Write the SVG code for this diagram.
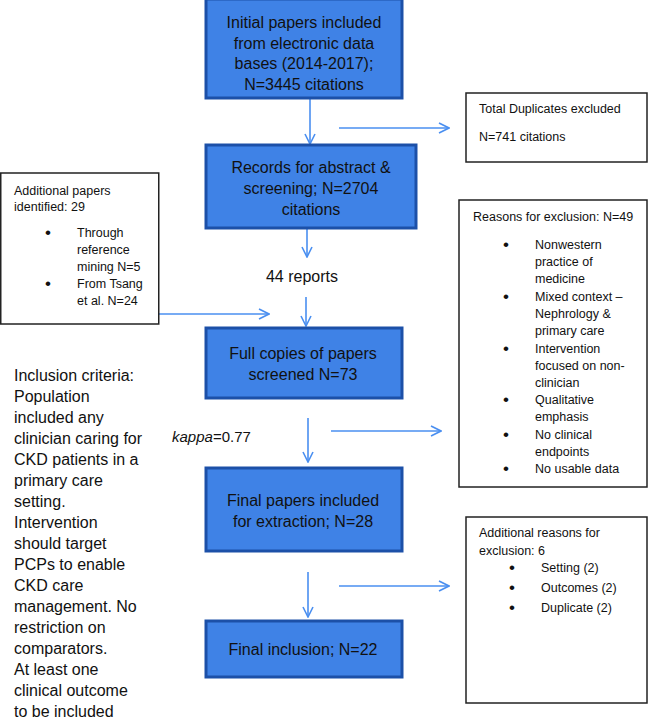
<svg xmlns="http://www.w3.org/2000/svg" width="649" height="722" viewBox="0 0 649 722">
<defs>
<style>
.blue{fill:#3f82e6;stroke:#1c50a8;stroke-width:3}
.white{fill:#ffffff;stroke:#222222;stroke-width:1.5}
.bt{font-family:"Liberation Sans",Arial,sans-serif;font-size:16px;fill:#111111;text-anchor:middle}
.st{font-family:"Liberation Sans",Arial,sans-serif;font-size:12.5px;fill:#111111}
.bu{font-family:"Liberation Sans",Arial,sans-serif;font-size:17px;fill:#111111}
.lt{font-family:"Liberation Sans",Arial,sans-serif;font-size:16px;fill:#111111}
.conn{stroke:#4a8ff0;stroke-width:1.6;fill:none;marker-end:url(#arr)}
</style>
<marker id="arr" viewBox="0 0 12 12" refX="11" refY="6" markerWidth="12" markerHeight="12" markerUnits="userSpaceOnUse" orient="auto">
<path d="M1,1 L11,6 L1,11" fill="none" stroke="#4a8ff0" stroke-width="1.6"/>
</marker>
</defs>
<rect width="649" height="722" fill="#ffffff"/>
<g id="connectors">
<line class="conn" x1="310" y1="99" x2="310" y2="144"/>
<line class="conn" x1="339" y1="128" x2="449" y2="128"/>
<line class="conn" x1="307" y1="229" x2="307" y2="257"/>
<line class="conn" x1="306" y1="297" x2="306" y2="326"/>
<line class="conn" x1="159" y1="314" x2="269" y2="314"/>
<line class="conn" x1="308" y1="418" x2="308" y2="462"/>
<line class="conn" x1="331" y1="431" x2="441" y2="431"/>
<line class="conn" x1="308" y1="572" x2="308" y2="617"/>
<line class="conn" x1="339" y1="586" x2="449" y2="586"/>
</g>
<g id="n1">
<rect class="blue" x="206" y="-1" width="196" height="99"/>
<text class="bt" x="304" y="28">Initial papers included</text>
<text class="bt" x="304" y="49">from electronic data</text>
<text class="bt" x="304" y="69">bases (2014-2017);</text>
<text class="bt" x="304" y="90">N=3445 citations</text>
</g>
<g id="dup">
<rect class="white" x="466" y="93" width="181" height="69"/>
<text class="st" x="479" y="113">Total Duplicates excluded</text>
<text class="st" x="479" y="141">N=741 citations</text>
</g>
<g id="n2">
<rect class="blue" x="206" y="145" width="210" height="83"/>
<text class="bt" x="311" y="173">Records for abstract &amp;</text>
<text class="bt" x="311" y="194">screening; N=2704</text>
<text class="bt" x="311" y="215">citations</text>
</g>
<g id="addpapers">
<rect class="white" x="0.75" y="173" width="158" height="151"/>
<text class="st" x="14" y="195">Additional papers</text>
<text class="st" x="14" y="211">identified: 29</text>
<text class="bu" x="45" y="238">•</text>
<text class="st" x="77" y="237">Through</text>
<text class="st" x="77" y="254">reference</text>
<text class="st" x="77" y="271">mining N=5</text>
<text class="bu" x="45" y="289">•</text>
<text class="st" x="77" y="288">From Tsang</text>
<text class="st" x="77" y="305">et al. N=24</text>
</g>
<g id="reports">
<text class="bt" x="302" y="282">44 reports</text>
</g>
<g id="reasons">
<rect class="white" x="459" y="200" width="188" height="287"/>
<text class="st" x="473" y="221">Reasons for exclusion: N=49</text>
<text class="bu" x="503" y="250">•</text>
<text class="st" x="535" y="249">Nonwestern</text>
<text class="st" x="535" y="266">practice of</text>
<text class="st" x="535" y="283">medicine</text>
<text class="bu" x="503" y="302">•</text>
<text class="st" x="535" y="301">Mixed context –</text>
<text class="st" x="535" y="318">Nephrology &amp;</text>
<text class="st" x="535" y="335">primary care</text>
<text class="bu" x="503" y="354">•</text>
<text class="st" x="535" y="353">Intervention</text>
<text class="st" x="535" y="370">focused on non-</text>
<text class="st" x="535" y="387">clinician</text>
<text class="bu" x="503" y="405">•</text>
<text class="st" x="535" y="404">Qualitative</text>
<text class="st" x="535" y="421">emphasis</text>
<text class="bu" x="503" y="440">•</text>
<text class="st" x="535" y="439">No clinical</text>
<text class="st" x="535" y="456">endpoints</text>
<text class="bu" x="503" y="474">•</text>
<text class="st" x="535" y="473">No usable data</text>
</g>
<g id="n3">
<rect class="blue" x="206" y="328" width="196" height="70"/>
<text class="bt" x="303" y="359">Full copies of papers</text>
<text class="bt" x="303" y="380">screened N=73</text>
</g>
<g id="criteria">
<text class="lt" x="14" y="381">Inclusion criteria:</text>
<text class="lt" x="14" y="402">Population</text>
<text class="lt" x="14" y="423">included any</text>
<text class="lt" x="14" y="444">clinician caring for</text>
<text class="lt" x="14" y="465">CKD patients in a</text>
<text class="lt" x="14" y="486">primary care</text>
<text class="lt" x="14" y="507">setting.</text>
<text class="lt" x="14" y="528">Intervention</text>
<text class="lt" x="14" y="549">should target</text>
<text class="lt" x="14" y="570">PCPs to enable</text>
<text class="lt" x="14" y="591">CKD care</text>
<text class="lt" x="14" y="612">management. No</text>
<text class="lt" x="14" y="633">restriction on</text>
<text class="lt" x="14" y="654">comparators.</text>
<text class="lt" x="14" y="675">At least one</text>
<text class="lt" x="14" y="696">clinical outcome</text>
<text class="lt" x="14" y="717">to be included</text>
</g>
<g id="kappa">
<text class="lt" x="172" y="442" style="font-size:15px"><tspan font-style="italic">kappa</tspan>=0.77</text>
</g>
<g id="n4">
<rect class="blue" x="206" y="468" width="196" height="83"/>
<text class="bt" x="303" y="506">Final papers included</text>
<text class="bt" x="303" y="527">for extraction; N=28</text>
</g>
<g id="addreasons">
<rect class="white" x="466" y="517" width="181" height="186"/>
<text class="st" x="479" y="537">Additional reasons for</text>
<text class="st" x="479" y="555">exclusion: 6</text>
<text class="bu" x="509" y="573">•</text>
<text class="st" x="541" y="572">Setting (2)</text>
<text class="bu" x="509" y="593">•</text>
<text class="st" x="541" y="592">Outcomes (2)</text>
<text class="bu" x="509" y="613">•</text>
<text class="st" x="541" y="612">Duplicate (2)</text>
</g>
<g id="n5">
<rect class="blue" x="206" y="621" width="196" height="56"/>
<text class="bt" x="303" y="655">Final inclusion; N=22</text>
</g>
</svg>
